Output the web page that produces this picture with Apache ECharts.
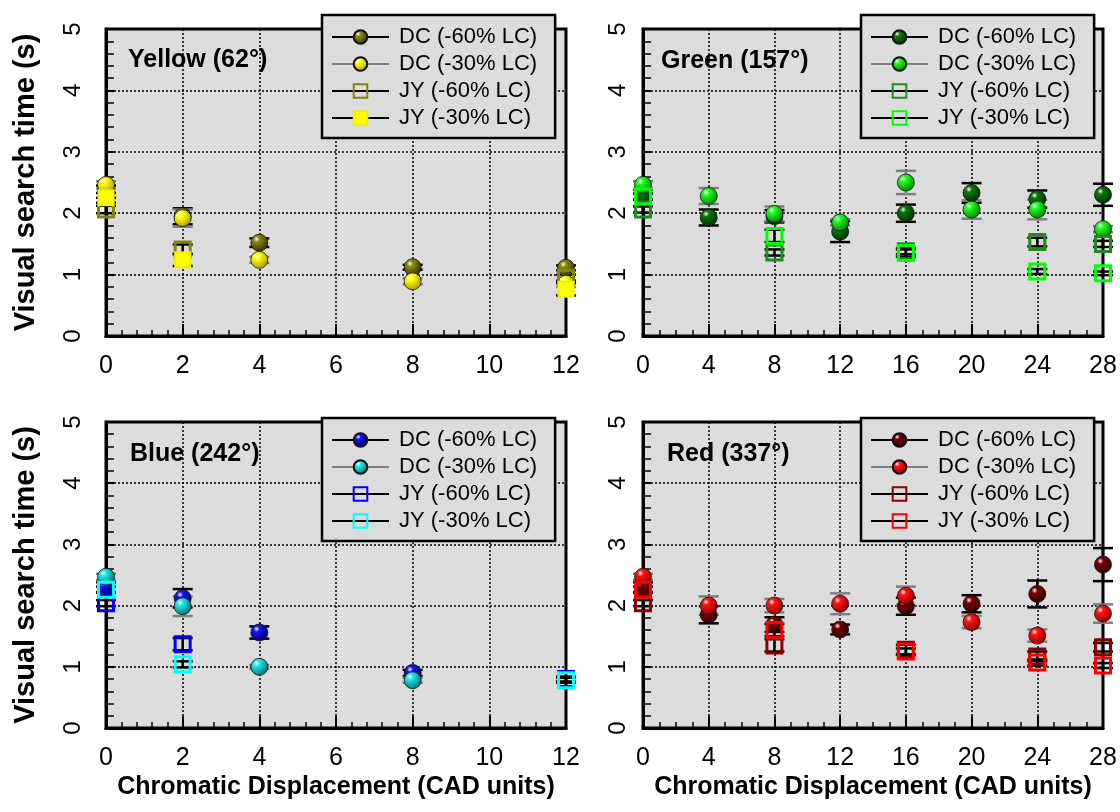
<!DOCTYPE html>
<html>
<head>
<meta charset="utf-8">
<script src="https://cdn.jsdelivr.net/npm/echarts@6/dist/echarts.min.js"></script>
<style>
html,body{margin:0;padding:0;background:#fff;}
#chart{width:1120px;height:812px;}
</style>
</head>
<body>
<div id="chart"></div>
<script>
// ---------------- DATA ----------------
const panelTitles = ['Yellow (62°)', 'Green (157°)', 'Blue (242°)', 'Red (337°)'];
const seriesNames = ['DC (-60% LC)', 'DC (-30% LC)', 'JY (-60% LC)', 'JY (-30% LC)'];
const xTitle = 'Chromatic Displacement (CAD units)';
const yTitle = 'Visual search time (s)';
const yTicks = [0, 1, 2, 3, 4, 5];
const xTicksShort = [0, 2, 4, 6, 8, 10, 12];
const xTicksLong = [0, 4, 8, 12, 16, 20, 24, 28];

const yellowX = [0, 2, 4, 8, 12];
const yellowDC60 = [2.35, 1.95, 1.52, 1.12, 1.11];
const yellowDC60Err = [0.10, 0.13, 0.07, 0.04, 0.04];
const yellowDC30 = [2.46, 1.92, 1.24, 0.89, 0.85];
const yellowDC30Err = [0.06, 0.14, 0.05, 0.05, 0.05];
const yellowJY60 = [2.06, 1.41, null, null, 0.95];
const yellowJY60Err = [0.06, 0.08, null, null, 0.05];
const yellowJY30 = [2.25, 1.24, null, null, 0.76];
const yellowJY30Err = [0.08, 0.10, null, null, 0.10];

const greenX = [0, 4, 8, 12, 16, 20, 24, 28];
const greenDC60 = [2.30, 1.93, 1.95, 1.70, 2.00, 2.33, 2.23, 2.30];
const greenDC60Err = [0.08, 0.13, 0.10, 0.17, 0.14, 0.16, 0.14, 0.18];
const greenDC30 = [2.46, 2.28, 1.99, 1.85, 2.50, 2.06, 2.06, 1.74];
const greenDC30Err = [0.06, 0.13, 0.12, 0.05, 0.19, 0.15, 0.16, 0.05];
const greenJY60 = [2.06, null, 1.36, null, 1.38, null, 1.53, 1.50];
const greenJY60Err = [0.05, null, 0.05, null, 0.05, null, 0.07, 0.05];
const greenJY30 = [2.27, null, 1.63, null, 1.35, null, 1.05, 1.02];
const greenJY30Err = [0.05, null, 0.10, null, 0.06, null, 0.04, 0.03];

const blueX = [0, 2, 4, 8, 12];
const blueDC60 = [2.30, 2.12, 1.56, 0.90, null];
const blueDC60Err = [0.08, 0.15, 0.10, 0.05, null];
const blueDC30 = [2.47, 1.99, 1.00, 0.78, null];
const blueDC30Err = [0.05, 0.16, 0.03, 0.04, null];
const blueJY60 = [2.04, 1.37, null, null, 0.80];
const blueJY60Err = [0.05, 0.10, null, null, 0.04];
const blueJY30 = [2.26, 1.04, null, null, 0.78];
const blueJY30Err = [0.05, 0.05, null, null, 0.04];

const redX = [0, 4, 8, 12, 16, 20, 24, 28];
const redDC60 = [2.30, 1.85, 1.69, 1.61, 1.99, 2.03, 2.19, 2.67];
const redDC60Err = [0.08, 0.14, 0.12, 0.08, 0.14, 0.14, 0.22, 0.27];
const redDC30 = [2.47, 2.00, 2.00, 2.03, 2.16, 1.73, 1.51, 1.87];
const redDC30Err = [0.05, 0.15, 0.11, 0.17, 0.15, 0.10, 0.10, 0.15];
const redJY60 = [2.04, null, 1.35, null, 1.28, null, 1.17, 1.32];
const redJY60Err = [0.05, null, 0.10, null, 0.08, null, 0.08, 0.07];
const redJY30 = [2.26, null, 1.60, null, 1.25, null, 1.07, 1.02];
const redJY30Err = [0.05, null, 0.10, null, 0.05, null, 0.05, 0.04];

// ---------------- FONTS ----------------
const HF = '"Liberation Sans", Arial, sans-serif';

// ---------------- STYLES ----------------
function sphere(base, dark) {
  return { type: 'radial', x: 0.35, y: 0.3, r: 0.75,
    colorStops: [{ offset: 0, color: '#ffffff' }, { offset: 0.22, color: base }, { offset: 1, color: dark }] };
}
const panels = [
  { x: yellowX, ys: [yellowDC60, yellowDC30, yellowJY60, yellowJY30], es: [yellowDC60Err, yellowDC30Err, yellowJY60Err, yellowJY30Err],
    c: [sphere('#8c8a10', '#2e2e00'), sphere('#ffff10', '#a89a00'), '#85850a', '#ffff00'], fillJY30: true },
  { x: greenX, ys: [greenDC60, greenDC30, greenJY60, greenJY30], es: [greenDC60Err, greenDC30Err, greenJY60Err, greenJY30Err],
    c: [sphere('#0b7a0b', '#002a00'), sphere('#22ff22', '#008000'), '#1f8a1f', '#00ff00'] },
  { x: blueX, ys: [blueDC60, blueDC30, blueJY60, blueJY30], es: [blueDC60Err, blueDC30Err, blueJY60Err, blueJY30Err],
    c: [sphere('#1414ff', '#000050'), sphere('#20eaea', '#006a6a'), '#0000ff', '#00ffff'] },
  { x: redX, ys: [redDC60, redDC30, redJY60, redJY30], es: [redDC60Err, redDC30Err, redJY60Err, redJY30Err],
    c: [sphere('#7a0000', '#280000'), sphere('#ff1414', '#8a0000'), '#8b0000', '#ff0000'] }
];
const errColors = ['#000000', '#7f7f7f', '#000000', '#000000'];
const legendLineColors = ['#000000', '#7f7f7f', '#000000', '#000000'];

const gridPos = [
  { left: 106, top: 29, width: 460, height: 307 },
  { left: 643, top: 29, width: 460, height: 307 },
  { left: 106, top: 422, width: 460, height: 306 },
  { left: 643, top: 422, width: 460, height: 306 }
];
const legendPos = [{ left: 322, top: 15 }, { left: 861, top: 15 }, { left: 322, top: 418 }, { left: 861, top: 418 }];
const titlePos = [{ left: 128, top: 48 }, { left: 661, top: 49 }, { left: 130, top: 442 }, { left: 667, top: 442 }];

const grid = [], xAxis = [], yAxis = [], series = [], legend = [], title = [];

panels.forEach((p, gi) => {
  const isLong = gi % 2 === 1;
  const xt = isLong ? xTicksLong : xTicksShort;
  grid.push(Object.assign({ show: true, backgroundColor: '#dcdcdc', borderColor: '#000', borderWidth: 3 }, gridPos[gi]));
  xAxis.push({
    type: 'value', gridIndex: gi, min: xt[0], max: xt[xt.length - 1], interval: xt[1] - xt[0],
    name: gi >= 2 ? xTitle : '', nameLocation: 'middle', nameGap: 47,
    nameTextStyle: { fontFamily: HF, fontWeight: 'bold', fontSize: 25, color: '#000' },
    axisLine: { show: true, lineStyle: { color: '#000', width: 3 } },
    axisTick: { show: true, inside: true, length: 12, lineStyle: { color: '#000', width: 2 } },
    minorTick: { show: true, splitNumber: isLong ? 4 : 5, length: 6, lineStyle: { color: '#000', width: 1.5 } },
    splitLine: { show: true, lineStyle: { color: '#000', width: 1.5, type: [2, 2] } },
    axisLabel: { fontFamily: HF, fontSize: 25, color: '#000', margin: 18 }
  });
  yAxis.push({
    type: 'value', gridIndex: gi, min: yTicks[0], max: yTicks[yTicks.length - 1], interval: 1,
    name: gi % 2 === 0 ? yTitle : '', nameLocation: 'middle', nameGap: 66, nameRotate: 90,
    nameTextStyle: { fontFamily: HF, fontWeight: 'bold', fontSize: 29, color: '#000' },
    axisLine: { show: true, lineStyle: { color: '#000', width: 3 } },
    axisTick: { show: true, inside: true, length: 8, lineStyle: { color: '#000', width: 2 } },
    minorTick: { show: true, splitNumber: 5, length: 8, lineStyle: { color: '#000', width: 1.5 } },
    splitLine: { show: true, lineStyle: { color: '#000', width: 1.5, type: [2, 2] } },
    axisLabel: { fontFamily: HF, fontSize: 24, color: '#000', rotate: 90, margin: gi % 2 === 0 ? 21 : 13 }
  });
  title.push({ text: panelTitles[gi], left: titlePos[gi].left, top: titlePos[gi].top, padding: 0,
    textStyle: { fontFamily: HF, fontWeight: 'bold', fontSize: 25, color: '#000' } });

  const prefix = panelTitles[gi] + '|';
  // error bars
  p.ys.forEach((ys, si) => {
    const data = [];
    p.x.forEach((x, i) => { if (ys[i] != null) data.push([x, ys[i] - p.es[si][i], ys[i] + p.es[si][i]]); });
    series.push({
      type: 'custom', xAxisIndex: gi, yAxisIndex: gi, z: 2 + si, silent: true, clip: false,
      encode: { x: 0, y: [1, 2] }, data: data,
      renderItem: function (params, api) {
        const x = api.value(0);
        const lo = api.coord([x, api.value(1)]);
        const hi = api.coord([x, api.value(2)]);
        const w = 10;
        const st = { stroke: errColors[si], lineWidth: 2.5 };
        return { type: 'group', children: [
          { type: 'line', shape: { x1: lo[0], y1: lo[1], x2: hi[0], y2: hi[1] }, style: st },
          { type: 'line', shape: { x1: lo[0] - w, y1: lo[1], x2: lo[0] + w, y2: lo[1] }, style: st },
          { type: 'line', shape: { x1: hi[0] - w, y1: hi[1], x2: hi[0] + w, y2: hi[1] }, style: st }
        ] };
      }
    });
  });
  // markers
  p.ys.forEach((ys, si) => {
    const data = [];
    p.x.forEach((x, i) => { if (ys[i] != null) data.push([x, ys[i]]); });
    const isDC = si < 2;
    let itemStyle;
    if (isDC) itemStyle = { color: p.c[si], borderColor: '#111', borderWidth: 0.8, opacity: 1 };
    else if (si === 3 && p.fillJY30) itemStyle = { color: p.c[si], borderColor: '#f0f000', borderWidth: 2, opacity: 1 };
    else itemStyle = { color: 'rgba(0,0,0,0)', borderColor: p.c[si], borderWidth: 3, opacity: 1 };
    series.push({
      name: prefix + seriesNames[si], type: 'line', xAxisIndex: gi, yAxisIndex: gi, z: 10 + si,
      data: data, clip: false, showSymbol: true, showAllSymbol: true,
      symbol: isDC ? 'circle' : 'rect', symbolSize: isDC ? 17 : 15,
      lineStyle: { opacity: 0, width: 0.01 }, itemStyle: itemStyle,
      emphasis: { disabled: true }, animation: false
    });
  });
  legend.push({
    orient: 'vertical', left: legendPos[gi].left, top: legendPos[gi].top, z: 30,
    backgroundColor: '#dcdcdc', borderColor: '#000', borderWidth: 2.5, borderRadius: 0,
    padding: [11, 18, 9, 9], itemGap: 5, itemWidth: 57, itemHeight: 17,
    selectedMode: false,
    formatter: function (n) { return n.split('|')[1]; },
    textStyle: { fontFamily: HF, fontSize: 22, color: '#000', lineHeight: 20, padding: [0, 0, 0, 5] },
    data: seriesNames.map((n, si) => ({ name: prefix + n, lineStyle: { color: legendLineColors[si], width: 2, opacity: 1 } }))
  });
});

const chart = echarts.init(document.getElementById('chart'), null, { renderer: 'canvas' });
chart.setOption({ animation: false, backgroundColor: '#fff', title, grid, xAxis, yAxis, legend, series });
</script>
</body>
</html>
